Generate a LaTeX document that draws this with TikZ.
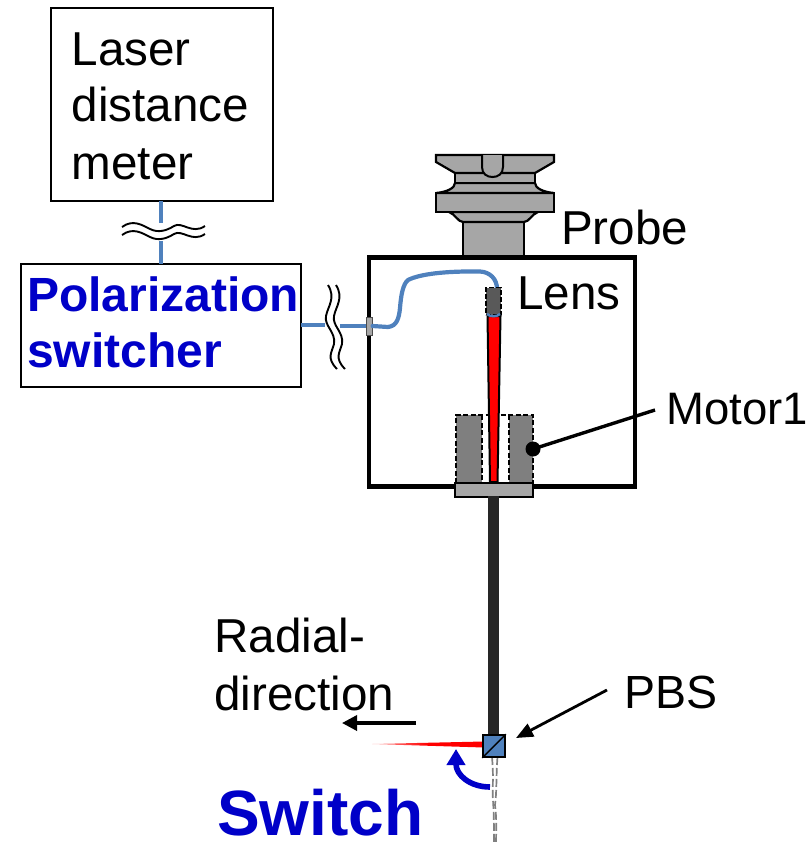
\documentclass[tikz,border=0pt]{standalone}
\usepackage{fontspec}
\setmainfont{Liberation Sans}
\usetikzlibrary{arrows.meta}
\definecolor{fiber}{HTML}{4F81BD}
\definecolor{swblue}{HTML}{0000C8}
\definecolor{pgray}{HTML}{A6A6A6}
\definecolor{mgray}{HTML}{7F7F7F}
\definecolor{lgray}{HTML}{595959}
\tikzset{
 lab/.style={anchor=base west,inner sep=0pt,font=\fontsize{47.6}{56}\selectfont,text=black},
 blab/.style={anchor=base west,inner sep=0pt,font=\fontsize{48}{56}\selectfont\bfseries,text=swblue},
 boxs/.style={draw=black,line width=1.6pt,fill=white},
 fib/.style={draw=fiber,line width=4.2pt},
 probe/.style={draw=black,line width=2.2pt,fill=pgray,line join=miter},
 wave/.style={draw=black,line width=1.9pt},
 dsh/.style={draw=black,line width=1.9pt,dash pattern=on 5pt off 2.5pt},
 ptr/.style={draw=black,line width=3.4pt},
 gdash/.style={draw=gray,line width=1.7pt,dash pattern=on 8pt off 3pt},
}
\begin{document}
\begin{tikzpicture}[x=1pt,y=-1pt]
\useasboundingbox (0,0) rectangle (811,844);
% boxes
\path[boxs] (51,8) rectangle (273,201);
\path[boxs] (21,264) rectangle (301,387);
\coordinate (lbot) at (161,201);
\coordinate (ptop) at (161,264);
\coordinate (pright) at (301,325);
% fibres
\draw[fib] (lbot) -- (161,223);
\draw[fib] (161,241) -- (ptop);
\draw[fib] (pright) -- (325,325);
\draw[fib] (340,326) -- (369,326);
% waves
\foreach \dy in {0,8}{
 \draw[wave] (122,{227+\dy}) .. controls (133,{219+\dy}) and (142,{225+\dy}) .. (150,{229+\dy})
   .. controls (158,{233+\dy}) and (166,{231+\dy}) .. (174,{226+\dy})
   .. controls (182,{221+\dy}) and (192,{235+\dy}) .. (205,{226+\dy});
}
\foreach \dx in {0,8}{
 \draw[wave] ({328+\dx},285) .. controls ({336+\dx},298) and ({328+\dx},306) .. ({326+\dx},316)
   .. controls ({324+\dx},326) and ({336+\dx},332) .. ({334+\dx},344)
   .. controls ({332+\dx},352) and ({326+\dx},358) .. ({337+\dx},369);
}
% probe
\path[probe] (463,222) rectangle (524,257);
\path[probe] (449,212) .. controls (455,214) and (458,222) .. (463,222) -- (524,222) .. controls (529,222) and (532,214) .. (538,212) -- cycle;
\path[probe] (436,193) rectangle (554,212);
\path[probe] (436,193) .. controls (447,192) and (455,188) .. (455,183) -- (535,183) .. controls (535,188) and (543,192) .. (554,193) -- cycle;
\path[probe] (455,173) rectangle (535,183);
\path[probe] (436,155) -- (554,155) -- (554,162) -- (535,173) -- (455,173) -- (436,162) -- cycle;
\draw[black,line width=2pt,fill=pgray] (482,155) -- (482,167) .. controls (482,174) and (487,177) .. (492.5,177) .. controls (498,177) and (503,174) .. (503,167) -- (503,155);
% housing
\draw[black,line width=4.5pt,fill=none] (369,257.5) rectangle (635,486.5);
% connector port
\node[draw=black!70,line width=0.6pt,fill=pgray,minimum width=5.5pt,minimum height=18pt,inner sep=0pt] (port) at (369.5,326) {};
% inner fibre
\coordinate (fend) at (497,289);
\draw[fib,line cap=round] (port.east) -- (388,327) .. controls (397,326) and (399,318) .. (400,308)
  .. controls (401,295) and (403,284) .. (408,280) .. controls (420,274) and (445,271) .. (480,271.5)
  .. controls (490,272) and (497,279) .. (fend);
% motor
\path[fill=mgray] (456,415) rectangle (482,483);
\path[fill=mgray] (509,415) rectangle (533,483);
\draw[dsh] (456,483) -- (456,415) -- (533,415) -- (533,483);
\draw[dsh] (482,415) -- (482,483);
\draw[dsh] (509,415) -- (509,483);
% base
\node[draw=black,line width=1.2pt,fill=pgray,minimum width=78pt,minimum height=14pt,inner sep=0pt] (base) at (494,490) {};
\draw[dsh] (456,483) -- (533,483);
% beam
\draw[black,line width=2pt,fill=red] (487.5,316) -- (500.5,316) -- (497.5,482) -- (490,482) -- cycle;
% lens
\node[draw=black,dash pattern=on 5pt off 2pt,line width=1.9pt,fill=lgray,minimum width=15pt,minimum height=27pt,inner sep=0pt] (lens) at (493.5,301) {};
\draw[fiber,line width=2.4pt] (487,314) .. controls (490,317) and (497,317) .. (500,314);
% rod
\node[fill=black!85,minimum width=11pt,minimum height=240pt,inner sep=0pt] (rod) at (493.5,616) {};
% lower fibre
\draw[gdash] (492,757) .. controls (494,780) and (492,790) .. (493,800) .. controls (494,815) and (494,830) .. (494,844);
\draw[gdash] (497.5,757) .. controls (496,775) and (497,790) .. (495,805) .. controls (497,820) and (496,835) .. (496,844);
% red beam out
\shade[left color=red!35,right color=red,middle color=red] (372,744) -- (484,741.5) -- (484,747.5) -- cycle;
% PBS
\node[draw=black,line width=1.6pt,fill=fiber,minimum size=22pt,inner sep=0pt] (pbs) at (494,746) {};
\draw[black,line width=1.4pt] (pbs.south west) -- (pbs.north east);
% pointers
\fill[black] (533,449) circle (7.5pt);
\coordinate (mdot) at (533,449);
% text
\node[lab] (t1) at (71.5,65) {Laser};
\node[lab] (t2) at (71.5,121) {distance};
\node[lab] (t3) at (71.5,179) {meter};
\node[blab] (t4) at (27,311) {Polarization};
\node[blab] (t5) at (27,367) {switcher};
\node[lab] (t6) at (561,244) {Probe};
\node[lab] (t7) at (517,309) {Lens};
\node[lab,font=\fontsize{45.5}{56}\selectfont] (t8) at (666,424) {Motor1};
\node[lab] (t9) at (214,652) {Radial-};
\node[lab] (t10) at (214,710) {direction};
\node[lab,font=\fontsize{46.5}{56}\selectfont] (t11) at (624,708) {PBS};
\node[anchor=base west,inner sep=0pt,font=\fontsize{64}{70}\selectfont\bfseries,text=swblue] (t12) at (217,835) {Switch};
\coordinate (m1) at (655,410);
\coordinate (p1) at (607,690);
\coordinate (p2) at (516,738);
\coordinate (r1) at (416,723);
\coordinate (r2) at (342,723);
\draw[ptr] (mdot) -- (m1);
\draw[black,line width=2.8pt,-{Triangle[length=17pt,width=14pt]}] (p1) -- (p2);
\draw[black,line width=3.4pt,-{Triangle[length=15pt,width=15pt]}] (r1) -- (r2);
\coordinate (a1) at (490,787);
\draw[swblue,line width=5.6pt,-{Triangle[length=16pt,width=18pt]}] (a1) .. controls (470,787) and (456,775) .. (456,749);
\end{tikzpicture}
\end{document}
